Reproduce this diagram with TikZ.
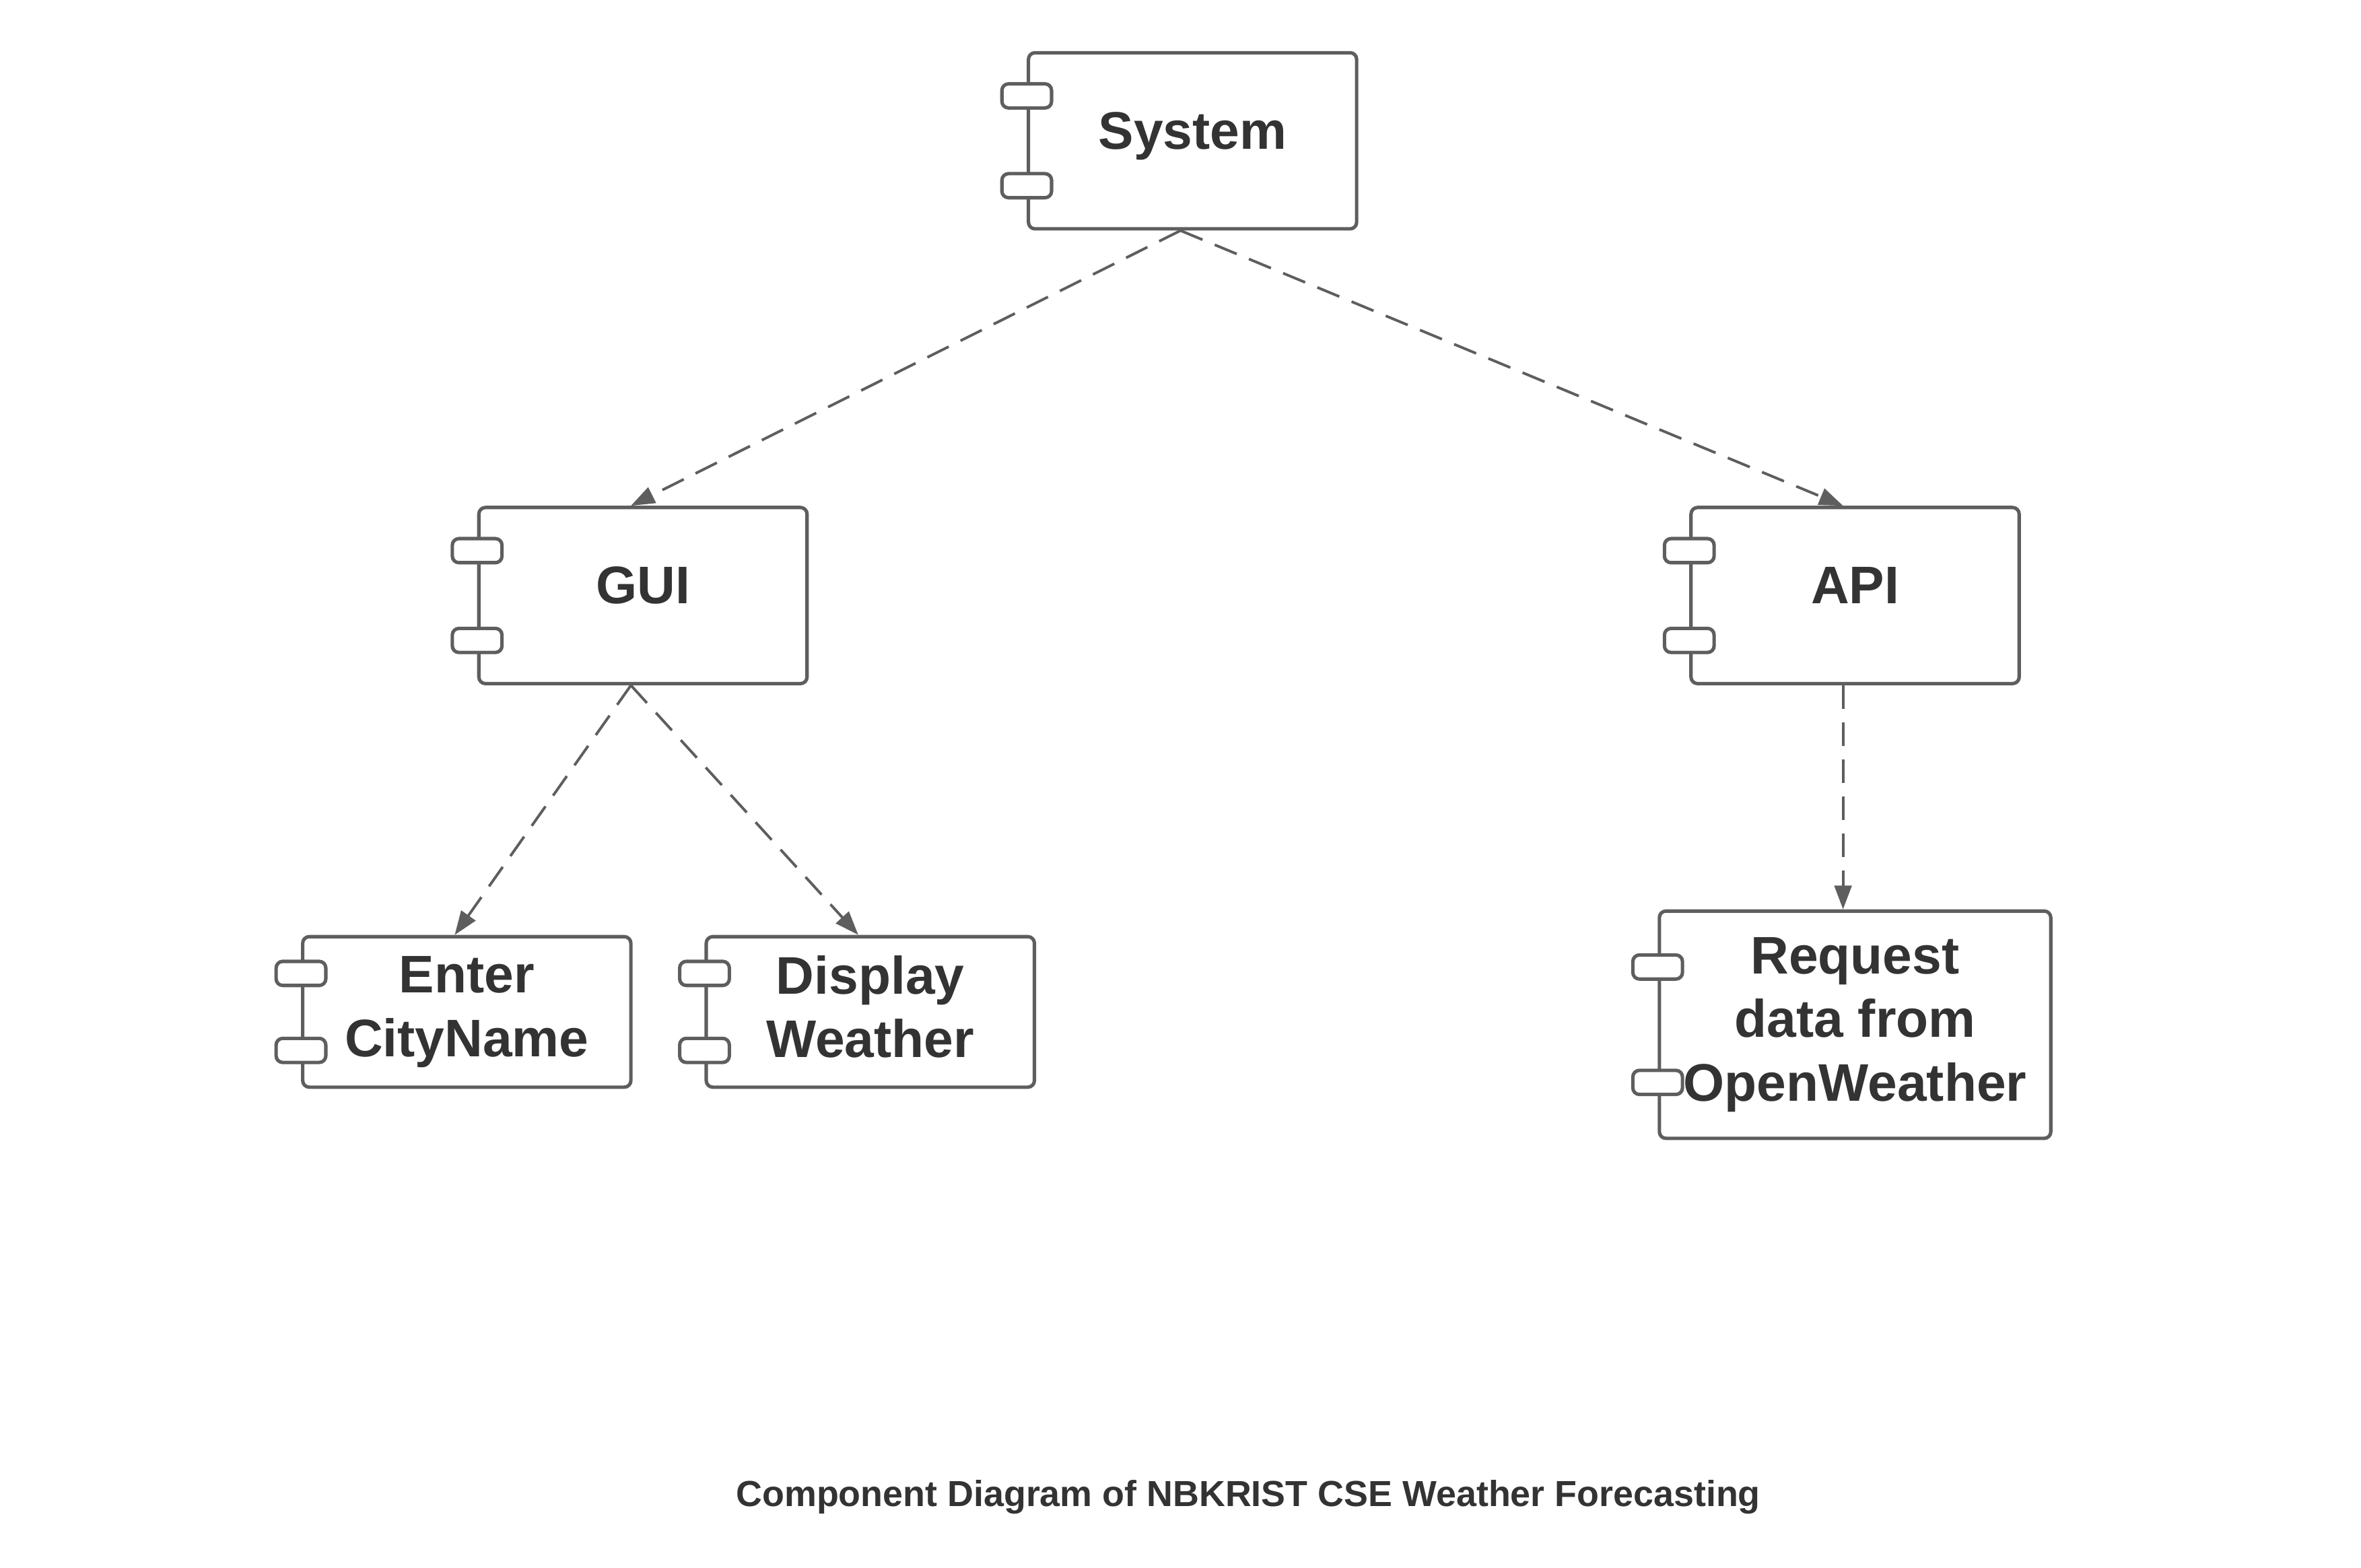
\documentclass[tikz,border=0pt]{standalone}
\usepackage{fontspec}
\setmainfont{Liberation Sans}
\usetikzlibrary{arrows.meta,calc}
\definecolor{LineGray}{HTML}{5E5E5E}
\definecolor{TextDark}{HTML}{333333}

% two interface tabs on the left edge of a component
\newcommand{\compports}[1]{%
  \node[port] (#1p1) at ($(#1.north west)!0.25!(#1.south west)$) {};
  \node[port] (#1p2) at ($(#1.north west)!0.75!(#1.south west)$) {};
}

\begin{document}
\begin{tikzpicture}[x=0.02cm,y=-0.02cm,
comp/.style={draw=LineGray,line width=1.3pt,rounded corners=2.5pt,fill=white,minimum width=4.36cm,align=center,text=TextDark,font=\fontsize{20}{24}\selectfont\bfseries,inner sep=0pt},
oneline/.style={minimum height=2.34cm,text height=0.72em,text depth=0.11em},
multi/.style={execute at end node=\vphantom{y}},
port/.style={draw=LineGray,line width=1.3pt,rounded corners=2.5pt,fill=white,minimum width=0.66cm,minimum height=0.32cm,inner sep=0pt},
dep/.style={-{Triangle[length=9pt,width=6.5pt]},draw=LineGray,line width=1pt,dash pattern=on 9pt off 5pt}
]
\useasboundingbox (0,0) rectangle (1568,1041);

\node[comp,oneline] (sys) at (792,93.5) {System};
\node[comp,oneline] (gui) at (427,395.5) {GUI};
\node[comp,oneline] (api) at (1232,395.5) {API};
\node[comp,multi,minimum height=2.0cm] (city) at (310,672) {Enter\\CityName};
\node[comp,multi,minimum height=2.0cm] (disp) at (578,672) {Display\\Weather};
\node[comp,multi,minimum width=5.2cm,minimum height=3.02cm] (req) at (1232,680.5) {Request\\data from\\OpenWeather};

\compports{sys}
\compports{gui}
\compports{api}
\compports{city}
\compports{disp}
\compports{req}

\draw[dep] ([xshift=-1.6mm]sys.south) -- ([xshift=-1.6mm]gui.north);
\draw[dep] ([xshift=-1.6mm]sys.south) -- ([xshift=-1.6mm]api.north);
\draw[dep] ([xshift=-1.6mm]gui.south) -- ([xshift=-1.6mm]city.north);
\draw[dep] ([xshift=-1.6mm]gui.south) -- ([xshift=-1.6mm]disp.north);
\draw[dep] ([xshift=-1.6mm]api.south) -- ([xshift=-1.6mm]req.north);

\node[text=TextDark,font=\fontsize{13.7}{16}\selectfont\bfseries] (title) at (829,994) {Component Diagram of NBKRIST CSE Weather Forecasting};
\end{tikzpicture}
\end{document}
